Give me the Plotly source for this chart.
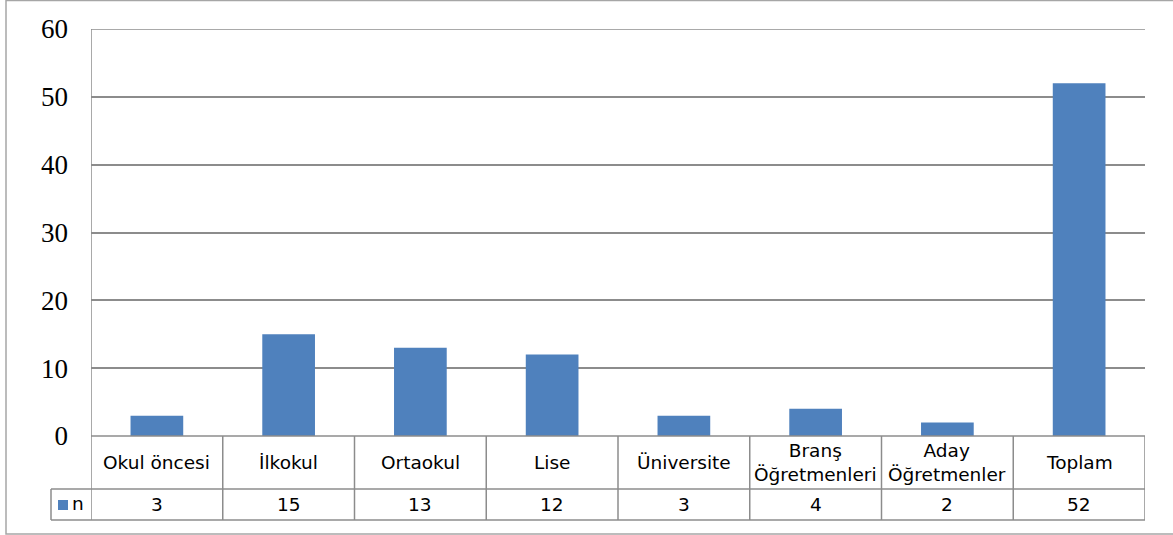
import plotly.graph_objects as go

categories = ["Okul öncesi", "İlkokul", "Ortaokul", "Lise", "Üniversite",
              "Branş<br>Öğretmenleri", "Aday<br>Öğretmenler", "Toplam"]
values = [3, 15, 13, 12, 3, 4, 2, 52]
series_name = "n"
y_ticks = [0, 10, 20, 30, 40, 50, 60]

W, H = 1173, 535
BLUE = "#4F81BD"
GRID = "#8C8C8C"

x0_px, x1_px = 91, 1145
ytop_px, ybot_px = 29, 436
row1_px, row2_px = 489, 520
legend_left_px = 51

def py(p):
    return (H - p) / H

def px(p):
    return p / W

fig = go.Figure()
n = len(categories)
xs = list(range(n))
fig.add_trace(go.Bar(x=xs, y=values, marker=dict(color=BLUE, line=dict(width=0)),
                     name=series_name, showlegend=False, hoverinfo="y"))

shapes = []
line = dict(color=GRID, width=1.5)
# outer border
shapes.append(dict(type="rect", xref="paper", yref="paper", x0=px(6), x1=px(1180),
                   y0=py(534), y1=py(0.5), line=dict(color="#A6A6A6", width=1.5)))
# top gridline
shapes.append(dict(type="line", xref="x", yref="y", x0=-0.5, x1=n - 0.5,
                   y0=y_ticks[-1], y1=y_ticks[-1], line=line))
# table horizontal lines
shapes.append(dict(type="line", xref="x", yref="paper", x0=-0.5, x1=n - 0.5,
                   y0=py(ybot_px), y1=py(ybot_px), line=line))
for yy in (row1_px, row2_px):
    shapes.append(dict(type="line", xref="paper", yref="paper", x0=px(legend_left_px), x1=px(x1_px),
                       y0=py(yy), y1=py(yy), line=line))
# vertical lines
for k in range(n + 1):
    top = ytop_px if k == 0 else ybot_px
    shapes.append(dict(type="line", xref="x", yref="paper", x0=k - 0.5, x1=k - 0.5,
                       y0=py(top), y1=py(row2_px), line=line))
shapes.append(dict(type="line", xref="paper", yref="paper", x0=px(legend_left_px), x1=px(legend_left_px),
                   y0=py(row1_px), y1=py(row2_px), line=line))
# legend key
shapes.append(dict(type="rect", xref="paper", yref="paper", x0=px(58), x1=px(68),
                   y0=py(510), y1=py(500), fillcolor=BLUE, line=dict(width=0)))

annotations = []
tfont = dict(family="DejaVu Sans, Verdana", size=18.5, color="#000000")
for i, c in enumerate(categories):
    annotations.append(dict(x=i, y=py((ybot_px + row1_px) / 2 - 0.5), xref="x", yref="paper",
                            text=c, showarrow=False, font=tfont, align="center",
                            xanchor="center", yanchor="middle"))
    annotations.append(dict(x=i, y=py((row1_px + row2_px) / 2), xref="x", yref="paper",
                            text=str(values[i]), showarrow=False, font=tfont,
                            xanchor="center", yanchor="middle"))
annotations.append(dict(x=px(70), y=py((row1_px + row2_px) / 2 - 1), xref="paper", yref="paper",
                        text=series_name, showarrow=False, font=tfont,
                        xanchor="left", yanchor="middle"))

fig.update_layout(
    width=W, height=H,
    autosize=False,
    margin=dict(l=0, r=0, t=0, b=0, pad=0, autoexpand=False),
    paper_bgcolor="white", plot_bgcolor="white",
    bargap=0.6,
    shapes=shapes, annotations=annotations,
    xaxis=dict(domain=[px(x0_px), px(x1_px)], range=[-0.5, n - 0.5], automargin=False,
               showticklabels=False, showgrid=False, zeroline=False, showline=False,
               fixedrange=True),
    yaxis=dict(domain=[py(ybot_px), py(ytop_px)], range=[0, 60], automargin=False,
               tickvals=y_ticks, ticktext=[str(t) for t in y_ticks],
               showgrid=True, gridcolor=GRID, gridwidth=1.5, zeroline=False,
               showline=False, ticks="", ticklabelstandoff=22,
               tickfont=dict(family="Liberation Serif, Times New Roman", size=27, color="#000000"),
               fixedrange=True),
    showlegend=False,
)

fig.write_html("out.html", config={"responsive": False, "displayModeBar": False},
               post_script="document.body.style.margin='0';document.body.style.overflow='hidden';")
